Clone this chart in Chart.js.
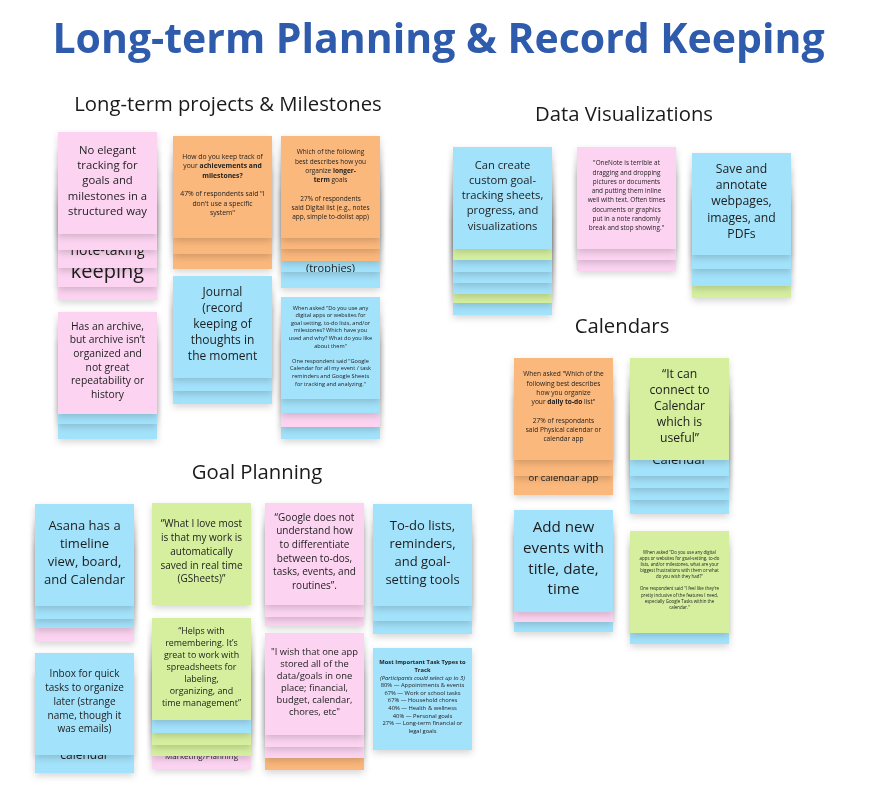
<!DOCTYPE html>
<html>
<head>
<meta charset="utf-8">
<title>Long-term Planning & Record Keeping</title>
<script src="https://cdn.jsdelivr.net/npm/chart.js@4.4.1/dist/chart.umd.min.js"></script>
<style>
  html, body { margin: 0; padding: 0; background: #ffffff; }
  #wrap { width: 877px; height: 793px; }
</style>
</head>
<body>
<div id="wrap"><canvas id="board" width="877" height="793"></canvas></div>
<script>
// ---------------- DATA ----------------
const boardTitle = "Long-term Planning & Record Keeping";

const clusterNames = ["Long-term projects & Milestones", "Data Visualizations", "Calendars", "Goal Planning"];
const clusterLabelX = [228, 624, 622, 257];
const clusterLabelY = [105.5, 115, 327, 473];

// which cluster each sticky note belongs to
const noteCluster = [0, 0, 0, 0, 0, 0, 1, 1, 1, 2, 2, 2, 2, 3, 3, 3, 3, 3, 3, 3, 3];
// sticky colour of each note
const noteColour = ["pink", "orange", "orange", "pink", "blue", "blue",
                    "blue", "pink", "blue",
                    "orange", "green", "blue", "green",
                    "blue", "green", "pink", "blue", "blue", "green", "pink", "blue"];
// centre of each note on the board (board units)
const noteX = [107.5, 222.5, 330.5, 107.5, 222.5, 330.5,
               502.5, 626.5, 741.5,
               563.5, 679.5, 563.5, 679.5,
               84.5, 201.5, 314.5, 422.5, 84.5, 201.5, 314.5, 422.5];
const noteY = [183, 187, 187, 363, 327, 348,
               198, 198, 204,
               409, 409, 561, 582,
               555, 554, 554, 555, 704, 669, 684, 699];
// text of each note, line by line (**bold**, __italic__)
const noteLines = [
  ["No elegant", "tracking for", "goals and", "milestones in a", "structured way"],
  ["How do you keep track of", "your **achievements and**", "**milestones?**", "", "47% of respondents said \"I", "don't use a specific", "system\""],
  ["Which of the following", "best describes how you", "organize **longer-**", "**term** goals", "", "27% of respondents", "said Digital list (e.g., notes", "app, simple to-dolist app)"],
  ["Has an archive,", "but archive isn\u2019t", "organized and", "not great", "repeatability or", "history"],
  ["Journal", "(record", "keeping of", "thoughts in", "the moment"],
  ["When asked \"Do you use any", "digital apps or websites for", "goal setting, to-do lists, and/or", "milestones? Which have you", "used and why? What do you like", "about them\"", "", "One respondent said \"Google", "Calendar for all my event / task", "reminders and Google Sheets", "for tracking and analyzing.\""],
  ["Can create", "custom goal-", "tracking sheets,", "progress, and", "visualizations"],
  ["\"OneNote is terrible at", "dragging and dropping", "pictures or documents", "and putting them inline", "well with text. Often times", "documents or graphics", "put in a note randomly", "break and stop showing.\""],
  ["Save and", "annotate", "webpages,", "images, and", "PDFs"],
  ["When asked \"Which of the", "following best describes", "how you organize", "your **daily to-do** list\"", "", "27% of respondants", "said Physical calendar or", "calendar app"],
  ["\u201CIt can", "connect to", "Calendar", "which is", "useful\u201D"],
  ["Add new", "events with", "title, date,", "time"],
  ["When asked \"Do you use any digital", "apps or websites for goal-setting, to-do", "lists, and/or milestones, what are your", "biggest frustrations with them or what", "do you wish they had?\"", "", "One respondent said \"I feel like they're", "pretty inclusive of the features I need,", "especially Google Tasks within the", "calendar.\""],
  ["Asana has a", "timeline", "view, board,", "and Calendar"],
  ["\u201CWhat I love most", "is that my work is", "automatically", "saved in real time", "(GSheets)\u201D"],
  ["\u201CGoogle does not", "understand how", "to differentiate", "between to-dos,", "tasks, events, and", "routines\u201D."],
  ["To-do lists,", "reminders,", "and goal-", "setting tools"],
  ["Inbox for quick", "tasks to organize", "later (strange", "name, though it", "was emails)"],
  ["\u201CHelps with", "remembering. It\u2019s", "great to work with", "spreadsheets for", "labeling,", "organizing, and", "time management\u201D"],
  ["\"I wish that one app", "stored all of the", "data/goals in one", "place; financial,", "budget, calendar,", "chores, etc\""],
  ["**Most Important Task Types to**", "**Track**", "__(Participants could select up to 3)__", "80% \u2014 Appointments & events", "67% \u2014 Work or school tasks", "67% \u2014 Household chores", "40% \u2014 Health & wellness", "40% \u2014 Personal goals", "27% \u2014 Long-term financial or", "legal goals"]
];
// notes piled underneath each note: colour of each hidden note
const stackColours = [
  ["pink", "pink", "pink", "pink"], ["orange", "orange"], ["orange", "orange", "blue", "blue"],
  ["blue", "blue"], ["blue", "blue"], ["blue", "pink", "blue"],
  ["green", "blue", "blue", "blue", "green", "blue"], ["pink", "pink"], ["blue", "blue", "green"],
  ["orange", "orange"], ["blue", "blue", "blue", "blue"], ["pink", "blue"], ["blue"],
  ["blue", "blue", "pink"], [], ["pink", "pink"], ["blue", "blue"], ["blue"],
  ["blue", "green", "green", "pink"], ["pink", "pink", "orange"], []
];
// how far each hidden note sticks out below the note above it (board units)
const stackDepths = [
  [16, 34, 53, 66], [16, 31], [11, 23, 34, 50],
  [10, 25], [13, 26], [14, 28, 40],
  [11, 23, 34, 45, 54, 66], [11, 22], [14, 31, 43],
  [16, 35], [16, 28, 40, 54], [10, 20], [11],
  [13, 22, 36], [], [12, 21], [15, 28], [18],
  [13, 25, 36, 49], [12, 23, 35], []
];
// text fragments of hidden notes that peek out: [note, hidden note, text, baseline depth]
const peekNote  = [0, 0, 2, 9, 10, 17, 18];
const peekLayer = [1, 2, 2, 1, 0, 0, 3];
const peekText  = ["note-taking", "keeping", "(trophies)", "or calendar app", "Calendar", "calendar", "Marketing/Planning"];
const peekDepth = [21, 44, 34, 21, 4, 4, 39];

// ---------------- STYLE ----------------
const FONT = '"Open Sans", "Noto Sans", sans-serif';
const COLOURS = { pink: "#fcd4f1", orange: "#fbb87c", blue: "#a3e2fb", green: "#d5ef9f" };
const TEXT_COLOUR = "#1d1d1d";
const NOTE_W = 99, NOTE_H = 102;
const noteFontSize   = [11.3, 6.8, 6.5, 10.3, 12, 5.6, 11.2, 6.4, 12.2, 6.6, 12.2, 15.2, 4.4, 13, 10, 10, 13, 10, 8.9, 9.4, 5.8];
const noteLineHeight = [15.3, 9.3, 9.3, 13.7, 16, 7.6, 15.3, 9.3, 16.3, 9.3, 16, 20.7, 6.1, 18, 13.7, 13.7, 18, 13.7, 12, 12, 7.6];
const peekFontSize = [14, 20, 11, 9.5, 13, 12, 8];
const HEADING_SIZE = 20.3;
const TITLE_SIZE = 41, TITLE_LH = 1.2, TITLE_PAD_TOP = 16.5, TITLE_PAD_BOTTOM = 12.3;
const TITLE_BAND = TITLE_SIZE * TITLE_LH + TITLE_PAD_TOP + TITLE_PAD_BOTTOM;

// ---------------- HELPERS ----------------
function parseRich(line) {
  const segs = []; let b = false, it = false, buf = "";
  for (let k = 0; k < line.length; k++) {
    if (line.startsWith("**", k)) { if (buf) segs.push({ t: buf, b, it }); buf = ""; b = !b; k++; continue; }
    if (line.startsWith("__", k)) { if (buf) segs.push({ t: buf, b, it }); buf = ""; it = !it; k++; continue; }
    buf += line[k];
  }
  if (buf) segs.push({ t: buf, b, it });
  return segs;
}
function fontOf(seg, size) {
  return (seg.it ? "italic " : "") + (seg.b ? "700 " : "400 ") + size + "px " + FONT;
}
function drawRichLine(ctx, line, cx, cy, size) {
  const segs = parseRich(line);
  let total = 0;
  segs.forEach(s => { ctx.font = fontOf(s, size); s.w = ctx.measureText(s.t).width; total += s.w; });
  let x = cx - total / 2;
  ctx.textAlign = "left";
  segs.forEach(s => { ctx.font = fontOf(s, size); ctx.fillText(s.t, x, cy); x += s.w; });
}
function sticky(ctx, x, y, w, h, colour) {
  ctx.save();
  ctx.shadowColor = "rgba(0,0,0,0.17)";
  ctx.shadowBlur = 7;
  ctx.shadowOffsetY = 3;
  ctx.fillStyle = COLOURS[colour];
  ctx.fillRect(x, y, w, h);
  ctx.restore();
}

const boardPlugin = {
  id: "stickyBoard",
  afterDatasetsDraw(chart) {
    const ctx = chart.ctx;
    const xs = chart.scales.x, ys = chart.scales.y;
    const dx = v => xs.getPixelForValue(v) - xs.getPixelForValue(0);
    const dy = v => ys.getPixelForValue(ys.min + v) - ys.getPixelForValue(ys.min);
    ctx.save();
    ctx.textBaseline = "middle";
    // cluster headings
    const lab = chart.getDatasetMeta(0);
    lab.data.forEach((pt, i) => {
      ctx.fillStyle = "#1a1a1a";
      ctx.font = "400 " + HEADING_SIZE + "px " + FONT;
      ctx.textAlign = "center";
      ctx.fillText(clusterNames[i], pt.x, pt.y);
    });
    // sticky notes
    for (let d = 1; d < chart.data.datasets.length; d++) {
      const meta = chart.getDatasetMeta(d);
      meta.data.forEach((pt, j) => {
        const n = chart.data.datasets[d].data[j].id;
        const w = dx(NOTE_W), h = dy(NOTE_H);
        const left = pt.x - w / 2, top = pt.y - h / 2, bottom = pt.y + h / 2;
        const cols = stackColours[n], deps = stackDepths[n];
        for (let k = cols.length - 1; k >= 0; k--) {
          const lb = bottom + dy(deps[k]);
          sticky(ctx, left, lb - h, w, h, cols[k]);
          for (let p = 0; p < peekNote.length; p++) {
            if (peekNote[p] === n && peekLayer[p] === k) {
              ctx.save();
              ctx.beginPath(); ctx.rect(left, lb - h, w, h); ctx.clip();
              ctx.fillStyle = TEXT_COLOUR;
              ctx.font = "400 " + peekFontSize[p] + "px " + FONT;
              ctx.textAlign = "center";
              ctx.textBaseline = "alphabetic";
              ctx.fillText(peekText[p], pt.x, bottom + dy(peekDepth[p]));
              ctx.restore();
            }
          }
        }
        sticky(ctx, left, top, w, h, noteColour[n]);
        const lines = noteLines[n], size = noteFontSize[n], lh = noteLineHeight[n];
        let y = pt.y - (lines.length * lh) / 2 + lh / 2 - 2;
        ctx.fillStyle = TEXT_COLOUR;
        ctx.textBaseline = "middle";
        lines.forEach(line => { if (line) drawRichLine(ctx, line, pt.x, y, size); y += lh; });
      });
    }
    ctx.restore();
  }
};

const datasets = [{
  label: "Cluster headings",
  data: clusterNames.map((c, i) => ({ x: clusterLabelX[i], y: clusterLabelY[i] })),
  pointRadius: 0, pointHoverRadius: 0, pointBorderWidth: 0, borderWidth: 0
}];
clusterNames.forEach((c, ci) => {
  datasets.push({
    label: c,
    data: noteCluster.map((cl, i) => cl === ci ? { x: noteX[i], y: noteY[i], id: i } : null).filter(Boolean),
    pointRadius: 0, pointHoverRadius: 0, pointBorderWidth: 0, borderWidth: 0
  });
});

new Chart(document.getElementById("board"), {
  type: "scatter",
  data: { datasets },
  options: {
    responsive: false,
    animation: false,
    events: [],
    layout: { padding: 0, autoPadding: false },
    plugins: {
      legend: { display: false },
      tooltip: { enabled: false },
      title: {
        display: true,
        text: boardTitle,
        color: "#2e5bab",
        font: { family: FONT, size: TITLE_SIZE, weight: "bold", lineHeight: TITLE_LH },
        padding: { top: TITLE_PAD_TOP, bottom: TITLE_PAD_BOTTOM }
      }
    },
    scales: {
      x: { type: "linear", min: 0, max: 877, display: false },
      y: { type: "linear", min: TITLE_BAND, max: 793, reverse: true, display: false }
    }
  },
  plugins: [boardPlugin]
});
</script>
</body>
</html>
